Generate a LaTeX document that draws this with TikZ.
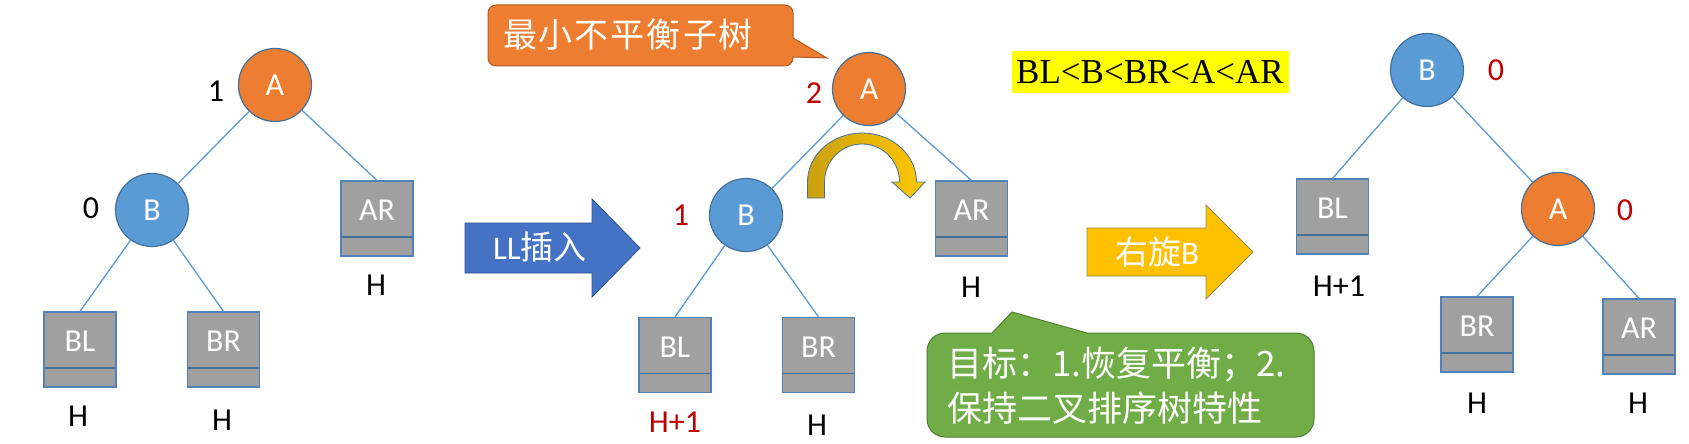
\documentclass[tikz,border=0pt]{standalone}
\usepackage{fontspec}
\setmainfont{Carlito}
\newfontfamily\cjk{Noto Sans CJK SC}
\newfontfamily\tnr{Liberation Serif}
\definecolor{orangeA}{HTML}{ED7D31}
\definecolor{blueB}{HTML}{5B9BD5}
\definecolor{ringc}{HTML}{41719C}
\definecolor{boxgray}{HTML}{A0A0A0}
\definecolor{boxline}{HTML}{4F81BD}
\definecolor{edgec}{HTML}{5B9BD5}
\definecolor{redl}{HTML}{C00000}
\definecolor{arrowblue}{HTML}{4472C4}
\definecolor{arrowblueline}{HTML}{2F528F}
\definecolor{arrowyellow}{HTML}{FFC000}
\definecolor{arrowyellowline}{HTML}{8C8C50}
\definecolor{calloutorangeline}{HTML}{AE5A21}
\definecolor{calloutgreen}{HTML}{70AD47}
\definecolor{calloutgreenline}{HTML}{507E32}
\definecolor{golddark}{HTML}{C9A010}
\definecolor{goldlight}{HTML}{FFC800}
\definecolor{hl}{HTML}{FFFF00}
\newcommand{\stx}[1]{\raisebox{-2pt}[0pt][0pt]{#1}}
\newcommand{\gapc}{\hspace{2pt}}
\begin{document}
\begin{tikzpicture}[x=1pt,y=-1pt,
  treenode/.style={circle, draw=ringc, line width=1.2pt, minimum size=73pt, inner sep=0pt, text=white, font=\fontsize{32}{38}\selectfont},
  anode/.style={treenode, fill=orangeA},
  bnode/.style={treenode, fill=blueB},
  subtree/.style={rectangle, draw=boxline, line width=1.2pt, fill=boxgray, minimum width=72pt, minimum height=75pt, inner sep=0pt, text=white, font=\fontsize{32}{38}\selectfont,
     path picture={\draw[ringc, line width=1.2pt] ([yshift=19pt]path picture bounding box.south west) -- ([yshift=19pt]path picture bounding box.south east);}},
  treeedge/.style={edgec, line width=1.3pt},
  lbl/.style={font=\fontsize{32}{38}\selectfont, inner sep=0pt},
  redlbl/.style={lbl, text=redl},
  blockarrow/.style={line width=0.8pt},
]
\fill[white] (0,0) rectangle (1689,444);
\useasboundingbox (0,0) rectangle (1689,444);

% ---------- left tree ----------
\node[anode] (lA) at (275,85) {A};
\node[bnode] (lB) at (152,210) {B};
\node[subtree] (lBL) at (80,349.5) {\stx{BL}};
\node[subtree] (lBR) at (223.5,349.5) {\stx{BR}};
\node[subtree] (lAR) at (377,218.5) {\stx{AR}};
\draw[treeedge] (lA) -- (lB);
\draw[treeedge] (lA) -- (lAR.north);
\draw[treeedge] (lB) -- (lBL.north);
\draw[treeedge] (lB) -- (lBR.north);
\node[lbl] (lnA) at (216,91) {1};
\node[lbl] (lnB) at (91,208) {0};
\node[lbl] (lhBL) at (78,416) {H};
\node[lbl] (lhBR) at (222,420) {H};
\node[lbl] (lhAR) at (376,285) {H};

% ---------- LL arrow ----------
\draw[blockarrow, fill=arrowblue, draw=arrowblueline] (465,223) -- (592,223) -- (592,199) -- (640,248) -- (592,297) -- (592,273) -- (465,273) -- cycle;
\node[text=white, font=\fontsize{33}{38}\selectfont, inner sep=0pt] (llt) at (540,247) {LL{\cjk 插入}};

% ---------- middle tree ----------
\node[anode] (mA) at (869,89) {A};
\node[bnode] (mB) at (746,215) {B};
\node[subtree] (mBL) at (675,355) {\stx{BL}};
\node[subtree] (mBR) at (818.5,355) {\stx{BR}};
\node[subtree] (mAR) at (971.5,218.5) {\stx{AR}};
\draw[treeedge] (mA) -- (mB);
\draw[treeedge] (mA) -- (mAR.north);
\draw[treeedge] (mB) -- (mBL.north);
\draw[treeedge] (mB) -- (mBR.north);
\node[redlbl] (mnA) at (814,93) {2};
\node[redlbl] (mnB) at (681,215) {1};
\node[redlbl] (mhBL) at (675,422) {H+1};
\node[lbl] (mhBR) at (817,425) {H};
\node[lbl] (mhAR) at (971,287) {H};

% curved rotation arrow
\shadedraw[left color=golddark, right color=goldlight, draw=ringc, line width=0.8pt]
  (807.5,198) -- (807.5,182) arc[start angle=180, end angle=360, x radius=54.5, y radius=49]
  -- (925,182) -- (910,198) -- (892,182) -- (899.5,182)
  arc[start angle=360, end angle=180, x radius=37.5, y radius=38]
  -- (824.5,198) -- cycle;

% orange callout
\draw[fill=orangeA, draw=calloutorangeline, line width=1pt]
  (488,13) arc[start angle=180, end angle=270, radius=8] -- (785,5)
  arc[start angle=270, end angle=360, radius=8] -- (793,38) -- (827,58) -- (793,57) -- (793,58)
  arc[start angle=0, end angle=90, radius=8] -- (496,66)
  arc[start angle=90, end angle=180, radius=8] -- cycle;
\node[text=white, font=\cjk\fontsize{34}{40}\selectfont, inner sep=0pt] (minsub) at (628,35) {最\gapc 小\gapc 不\gapc 平\gapc 衡\gapc 子\gapc 树};

% ordering
\node[fill=hl, text=black, font=\tnr\fontsize{35}{40}\selectfont, minimum width=277pt, minimum height=42pt, inner sep=0pt] (order) at (1150,72) {BL<B<BR<A<AR};

% ---------- rotate arrow ----------
\draw[blockarrow, fill=arrowyellow, draw=arrowyellowline] (1087,228) -- (1206,228) -- (1206,205) -- (1253,252) -- (1206,299) -- (1206,276) -- (1087,276) -- cycle;
\node[text=white, font=\fontsize{33}{38}\selectfont, inner sep=0pt] (rott) at (1157,252) {{\cjk 右旋}B};

% green callout
\draw[fill=calloutgreen, draw=calloutgreenline, line width=1pt]
  (927,351) arc[start angle=180, end angle=270, radius=18] -- (992,333) -- (1012,312) -- (1087,333) -- (1296,333)
  arc[start angle=270, end angle=360, radius=18] -- (1314,419)
  arc[start angle=0, end angle=90, radius=18] -- (945,437)
  arc[start angle=90, end angle=180, radius=18] -- cycle;
\node[text=white, font=\cjk\fontsize{35}{45}\selectfont, inner sep=0pt, align=left, anchor=west] (goal) at (947,386) {目标：1.恢复平衡；2.\\保持二叉排序树特性};

% ---------- right tree ----------
\node[bnode] (rB) at (1427,70) {B};
\node[anode] (rA) at (1558,209) {A};
\node[subtree] (rBL) at (1332.5,216.5) {\stx{BL}};
\node[subtree] (rBR) at (1477,334.5) {\stx{BR}};
\node[subtree] (rAR) at (1639,336.5) {\stx{AR}};
\draw[treeedge] (rB) -- (rBL.north);
\draw[treeedge] (rB) -- (rA);
\draw[treeedge] (rA) -- (rBR.north);
\draw[treeedge] (rA) -- (rAR.north);
\node[redlbl] (rnB) at (1496,70) {0};
\node[redlbl] (rnA) at (1625,210) {0};
\node[lbl] (rhBL) at (1339,286) {H+1};
\node[lbl] (rhBR) at (1477,403) {H};
\node[lbl] (rhAR) at (1638,403) {H};
\end{tikzpicture}
\end{document}
